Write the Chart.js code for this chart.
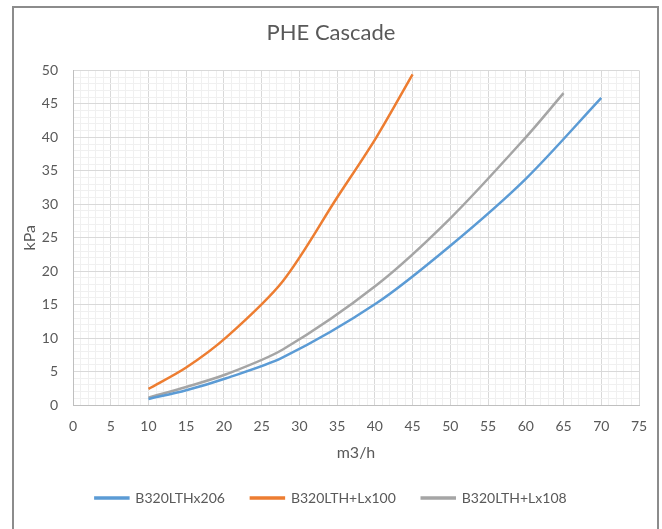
<!DOCTYPE html>
<html>
<head>
<meta charset="utf-8">
<title>PHE Cascade</title>
<script src="https://cdn.jsdelivr.net/npm/chart.js@4/dist/chart.umd.min.js"></script>
<style>
    body { margin: 0; background: #fff; }
    #wrap { position: absolute; left: 0; top: 0; width: 662px; height: 529px; }
    #frame {
        position: absolute; left: 12px; top: 6px; width: 643px; height: 540px;
        border: 2px solid #8c8c8c; border-bottom: none; pointer-events: none;
    }
</style>
</head>
<body>
<div id="wrap"><canvas id="phe"></canvas></div>
<div id="frame"></div>
<script>
// ===== DATA =====
const seriesNames = ['B320LTHx206', 'B320LTH+Lx100', 'B320LTH+Lx108'];
const seriesColors = ['#5b9bd5', '#ed7d31', '#a5a5a5'];

// flow m3/h  ->  pressure drop kPa
const flow206 = [10, 15, 20.3, 27.8, 40.2, 50, 60, 70];
const dp206 = [0.9, 2.2, 4.0, 7.1, 15.2, 23.8, 33.8, 45.9];

const flow100 = [10, 15, 20.3, 27.8, 35, 40.2, 45];
const dp100 = [2.4, 5.6, 10.1, 18.5, 31.0, 40.0, 49.4];

const flow108 = [10, 15, 20.3, 27.8, 40.2, 50, 60, 65];
const dp108 = [1.1, 2.7, 4.6, 8.3, 17.9, 27.9, 40.0, 46.6];

// axis ranges / labelled ticks
const xMax = 75;
const yMax = 50;
const labelStep = 5;   // numbered gridlines
const minorStep = 1;   // light gridlines in between

const FONT = "Lato, 'Open Sans', sans-serif";
const TEXT = '#595959';

function toPoints(xs, ys) {
    return xs.map((x, i) => ({ x: x, y: ys[i] }));
}

function gridColor(ctx) {
    return ctx.tick && ctx.tick.value % labelStep === 0 ? '#d9d9d9' : '#f0f0f0';
}

function tickLabel(value) {
    return value % labelStep === 0 ? value : '';
}

// ===== CHART =====
document.addEventListener('DOMContentLoaded', function() {
    const ctx = document.getElementById('phe');
    const seriesData = [toPoints(flow206, dp206), toPoints(flow100, dp100), toPoints(flow108, dp108)];

    new Chart(ctx, {
        type: 'line',
        data: {
            datasets: seriesNames.map((name, i) => ({
                label: name,
                data: seriesData[i],
                borderColor: seriesColors[i],
                backgroundColor: seriesColors[i],
                borderWidth: 2.5,
                pointRadius: 0,
                tension: 0.3,
                fill: false
            }))
        },
        options: {
            responsive: true,
            maintainAspectRatio: false,
            animation: false,
            layout: { padding: { left: 0, right: 0, top: 0, bottom: 14 } },
            plugins: {
                title: {
                    display: true,
                    text: 'PHE Cascade',
                    color: TEXT,
                    font: { family: FONT, size: 22, weight: 'normal' },
                    padding: { top: 20, bottom: 24 }
                },
                legend: {
                    position: 'bottom',
                    labels: {
                        color: TEXT,
                        font: { family: FONT, size: 14 },
                        boxWidth: 33,
                        boxHeight: 1,
                        padding: 26
                    }
                },
                tooltip: { enabled: false }
            },
            scales: {
                x: {
                    type: 'linear',
                    min: 0,
                    max: xMax,
                    afterFit: scale => { scale.height = 60; },
                    ticks: {
                        stepSize: minorStep,
                        autoSkip: false,
                        maxRotation: 0,
                        color: TEXT,
                        font: { family: FONT, size: 14 },
                        padding: 13,
                        callback: tickLabel
                    },
                    grid: { color: gridColor, drawTicks: false },
                    border: { color: '#bfbfbf' },
                    title: {
                        display: true,
                        text: 'm3/h',
                        color: TEXT,
                        font: { family: FONT, size: 16 },
                        padding: { top: 4, bottom: 3 }
                    }
                },
                y: {
                    min: 0,
                    max: yMax,
                    afterFit: scale => { scale.width = 73; },
                    ticks: {
                        stepSize: minorStep,
                        autoSkip: false,
                        color: TEXT,
                        font: { family: FONT, size: 14 },
                        padding: 15,
                        callback: tickLabel
                    },
                    grid: { color: gridColor, drawTicks: false },
                    border: { color: '#bfbfbf' },
                    title: {
                        display: true,
                        text: 'kPa',
                        color: TEXT,
                        font: { family: FONT, size: 16 },
                        padding: { top: 20, bottom: 4 }
                    }
                },
                // empty strip on the right so the plot stops short of the frame
                gap: {
                    position: 'right',
                    display: true,
                    afterFit: scale => { scale.width = 23; },
                    ticks: { display: false },
                    grid: { display: false },
                    border: { display: false }
                }
            }
        }
    });
});
</script>
</body>
</html>
